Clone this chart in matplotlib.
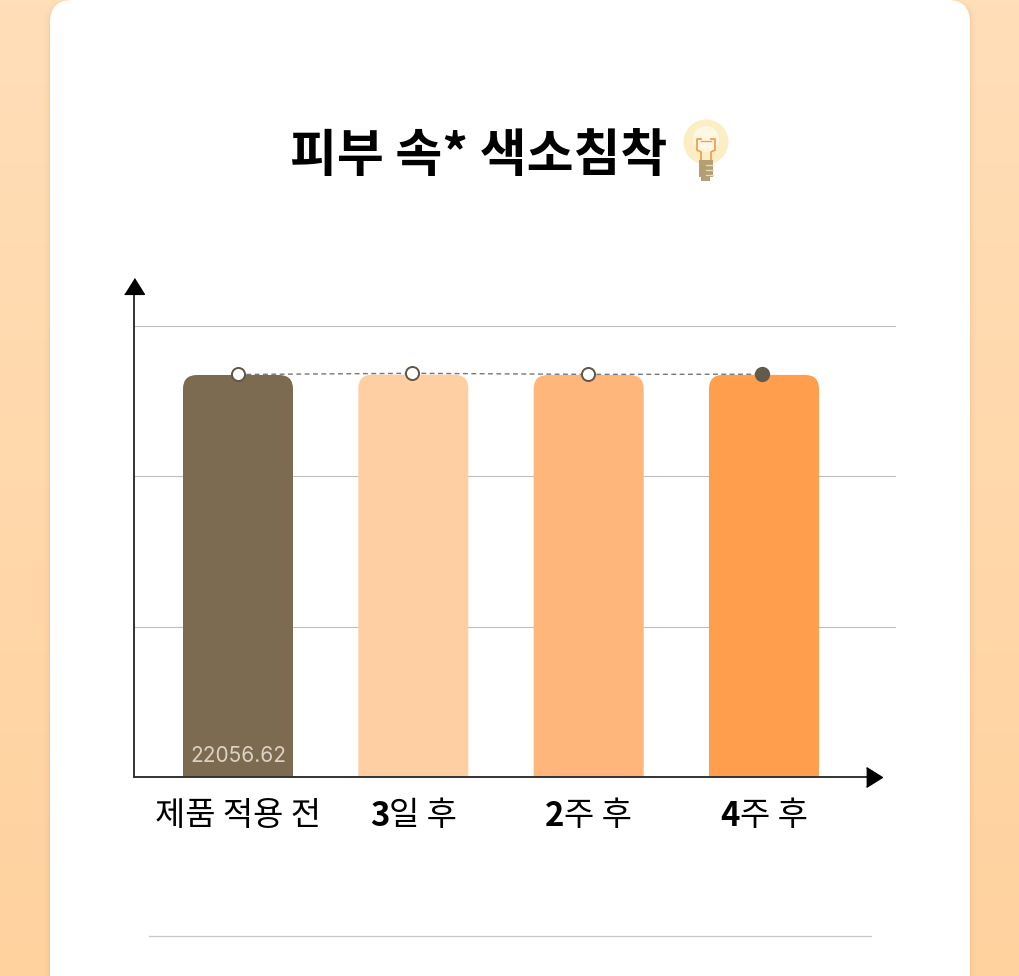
import numpy as np
import matplotlib
matplotlib.use("Agg")
from matplotlib import pyplot as plt
from matplotlib.patches import FancyBboxPatch, Circle, Rectangle
from matplotlib.transforms import offset_copy

plt.rcParams['font.family'] = ['Noto Sans CJK KR', 'DejaVu Sans']

# data
title = "피부 속* 색소침착"
prefixes = ["", "3", "2", "4"]
suffixes = ["제품 적용 전", "일 후", "주 후", "주 후"]
values = [22056.62, 22075, 22056, 22062]
point_values = [22085, 22150, 22090, 22100]
grid_values = [8250, 16500, 24750]
value_label = "22056.62"
bar_colors = ["#7d6b51", "#fecfa3", "#ffb67b", "#ff9f4d"]

W, H = 1020, 976
fig = plt.figure(figsize=(W / 100, H / 100), dpi=100)

# background layer in pixel coordinates
bg = fig.add_axes([0, 0, 1, 1])
bg.set_xlim(0, W)
bg.set_ylim(H, 0)
bg.axis("off")
top = np.array([255, 222, 184]) / 255
bottom = np.array([255, 210, 158]) / 255
grad = np.linspace(0, 1, 256)[:, None, None] * (bottom - top) + top
bg.imshow(grad, extent=[0, W, H, 0], aspect="auto", zorder=0)

# card with soft shadow
for grow, alpha in [(6, 0.02), (4, 0.03), (2, 0.04), (1, 0.05)]:
    bg.add_patch(FancyBboxPatch((50 - grow, 0), 920 + 2 * grow, 1100,
                                boxstyle="round,pad=0,rounding_size=24",
                                fc="#c98a4a", ec="none", alpha=alpha, zorder=1))
bg.add_patch(FancyBboxPatch((50, 0), 920, 1100,
                            boxstyle="round,pad=0,rounding_size=22",
                            fc="white", ec="none", zorder=2))

bg.text(479, 156, title, fontsize=36.7, fontweight="bold", color="black",
        ha="center", va="center", zorder=3)
bg.plot([149, 871], [936, 936], color="#c9c9c9", lw=0.9, zorder=3)

# light bulb
bg.add_patch(Circle((706, 142), 22.5, fc="#fbeec4", ec="none", zorder=3))
bg.add_patch(Circle((706, 139), 13, fc="#fdf7e4", ec="none", zorder=3))
bg.plot([701, 697, 697, 701, 701], [139, 139, 150, 152, 160], color="#f2a052",
        lw=1.3, zorder=4)
bg.plot([711, 715, 715, 711, 711], [139, 139, 150, 152, 160], color="#f2a052",
        lw=1.3, zorder=4)
bg.plot([701, 711], [141, 141], color="#f2a052", lw=1.0, zorder=4)
bg.add_patch(Rectangle((699, 160), 14, 17, fc="#b39f72", ec="none", zorder=4))
bg.add_patch(Rectangle((701, 177), 9, 4, fc="#b39f72", ec="none", zorder=4))
for yy in [165, 170, 175]:
    bg.plot([706, 713], [yy, yy], color="#e6dcc2", lw=0.9, zorder=5)

# chart
ax = fig.add_axes([134 / W, 1 - 777 / H, (896 - 134) / W, (777 - 278) / H])
ax.patch.set_alpha(0)
px_x = 175.33
px_y = 22056.62 / 402
ax.set_xlim(-(238 - 134) / px_x, (896 - 238) / px_x)
ax.set_ylim(0, 499 * px_y)

x = np.arange(len(values))
bar_w = 110 / px_x
radius = 14 / px_x
aspect = px_y * px_x
for xi, v, c in zip(x, values, bar_colors):
    ax.add_patch(FancyBboxPatch((xi - bar_w / 2, -2000), bar_w, v + 2000,
                                boxstyle=f"round,pad=0,rounding_size={radius}",
                                mutation_aspect=aspect, fc=c, ec="none", zorder=2))

ax.set_yticks(grid_values)
ax.set_xticks([])
ax.tick_params(left=False, labelleft=False)
ax.grid(axis="y", color="#bdbdbd", lw=0.8, zorder=1)
ax.set_axisbelow(True)
for s in ["top", "right"]:
    ax.spines[s].set_visible(False)
for s in ["left", "bottom"]:
    ax.spines[s].set_color("#333333")
    ax.spines[s].set_linewidth(1.4)
    ax.spines[s].set_zorder(6)
ax.spines["left"].set_bounds(0, 26500)
ax.spines["bottom"].set_bounds(ax.get_xlim()[0], 3.6)

# arrow heads
up = [(-1, -0.8), (1, -0.8), (0, 0.8)]
right = [(-0.8, -1), (0.8, 0), (-0.8, 1)]
ax.plot([ax.get_xlim()[0]], [26940], marker=up, ms=14.2, color="black",
        clip_on=False, zorder=7)
ax.plot([3.625], [0], marker=right, ms=14.2, color="black", clip_on=False, zorder=7)

# trend line and points sit a touch left of the bar centres
px = x - np.array([0, 1.2, 1.0, 2.0]) / px_x
ax.plot(px, point_values, color="#777777", lw=1.0, ls=(0, (3.5, 2.5)), zorder=3)
ax.plot(px[:-1], point_values[:-1], ls="none", marker="o", ms=9.4, mfc="white",
        mec="#5f5646", mew=1.4, zorder=4)
ax.plot(px[-1:], point_values[-1:], ls="none", marker="o", ms=10, mfc="#635a4b",
        mec="#635a4b", zorder=4)

ax.text(x[0], 21.5 * px_y, value_label, color="#ddd3c5", fontsize=15, family=["Inter"],
        ha="center", va="center", zorder=5)

# x labels: digits are drawn heavier than the hangul
renderer = fig.canvas.get_renderer()
label_y = -39 * px_y
for xi, pre, suf in zip(x, prefixes, suffixes):
    t2 = ax.text(xi, label_y, suf, fontsize=23.7, color="black", ha="left", va="center",
                 clip_on=False, zorder=5)
    w2 = t2.get_window_extent(renderer).width
    if pre:
        t1 = ax.text(xi, label_y, pre, fontsize=23.7, fontweight="bold", color="black",
                     ha="left", va="center", clip_on=False, zorder=5)
        w1 = t1.get_window_extent(renderer).width
    else:
        t1, w1 = None, 0
    start = -(w1 + w2) / 2
    if t1 is not None:
        t1.set_transform(offset_copy(ax.transData, fig=fig, x=start, y=0, units="dots"))
    t2.set_transform(offset_copy(ax.transData, fig=fig, x=start + w1, y=0, units="dots"))

fig.savefig("out.png", dpi=100)
